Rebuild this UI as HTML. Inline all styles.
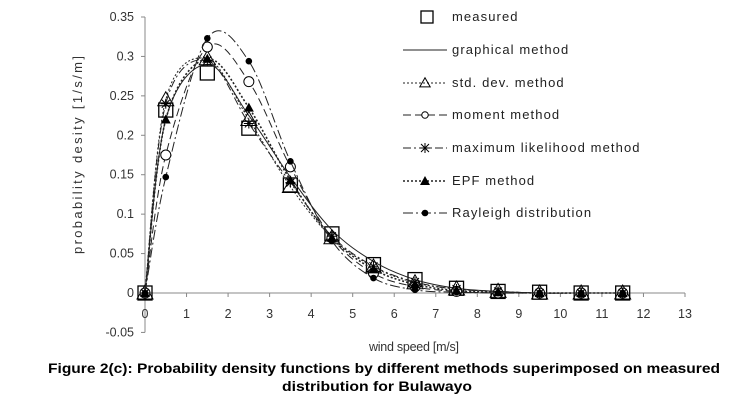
<!DOCTYPE html>
<html><head><meta charset="utf-8"><style>
body{margin:0;background:#fff;width:740px;height:409px;overflow:hidden;font-family:"Liberation Sans",sans-serif}
svg{display:block}
</style></head><body>
<svg id="chart" width="740" height="409" font-family="Liberation Sans, sans-serif">
<g id="axes"></g>
<g id="series"></g>
<g id="legend"></g>
<text x="82" y="155" font-size="13" fill="#333" text-anchor="middle" textLength="198" lengthAdjust="spacing" transform="rotate(-90 82 155)">probability desity [1/s/m]</text>
<text x="414" y="351" font-size="12.5" fill="#333" text-anchor="middle" textLength="90" lengthAdjust="spacing">wind speed [m/s]</text>
<text x="384" y="373" font-size="13.5" font-weight="bold" text-anchor="middle" textLength="672" lengthAdjust="spacingAndGlyphs">Figure 2(c): Probability density functions by different methods superimposed on measured</text>
<text x="377" y="391" font-size="13.5" font-weight="bold" text-anchor="middle" textLength="190" lengthAdjust="spacingAndGlyphs">distribution for Bulawayo</text>
</svg>
<script>
const xCats = [0,0.5,1.5,2.5,3.5,4.5,5.5,6.5,7.5,8.5,9.5,10.5,11.5];
const measured = [0,0.232,0.279,0.209,0.137,0.075,0.036,0.017,0.006,0.002,0.001,0,0];
const graphical = [0,0.22,0.29,0.225,0.147,0.08,0.04,0.017,0.006,0.002,0,0,0];
const stdDev = [0,0.245,0.297,0.22,0.135,0.07,0.033,0.013,0.005,0.002,0,0,0];
const moment = [0,0.175,0.312,0.268,0.16,0.07,0.025,0.008,0.002,0,0,0,0];
const maxLik = [0,0.24,0.295,0.215,0.14,0.072,0.034,0.014,0.005,0.002,0,0,0];
const epf = [0,0.22,0.297,0.235,0.143,0.07,0.03,0.011,0.003,0.001,0,0,0];
const rayleigh = [0,0.147,0.323,0.294,0.167,0.066,0.019,0.004,0.001,0,0,0,0];
const xTicks = [0,1,2,3,4,5,6,7,8,9,10,11,12,13];
const yTicks = [-0.05,0,0.05,0.1,0.15,0.2,0.25,0.3,0.35];
const yTickLabels = ["-0.05","0","0.05","0.1","0.15","0.2","0.25","0.3","0.35"];
const legendLabels = ["measured","graphical method","std. dev. method","moment method","maximum likelihood method","EPF method","Rayleigh distribution"];

const NS="http://www.w3.org/2000/svg";
const X0=145,X1=685,Y0=293,YTOP=17;
const xs=v=>X0+(X1-X0)*v/13;
const ys=v=>Y0-(Y0-YTOP)*v/0.35;
function mk(tag,attrs,parent){const e=document.createElementNS(NS,tag);for(const k in attrs)e.setAttribute(k,attrs[k]);parent.appendChild(e);return e;}
const axes=document.getElementById('axes');
let e=mk('line',{x1:X0,y1:YTOP,x2:X0,y2:ys(-0.05),stroke:'#888'},axes);


e=mk('line',{x1:X0,y1:Y0,x2:X1,y2:Y0,stroke:'#888'},axes);


yTicks.forEach((t,i)=>{
  mk('line',{x1:X0-4,y1:ys(t),x2:X0,y2:ys(t),stroke:'#888'},axes);
  const tx=mk('text',{x:X0-11,y:ys(t)+4,'font-size':12.5,fill:'#333','text-anchor':'end'},axes);
  tx.textContent=yTickLabels[i];
  
  
});
xTicks.forEach(t=>{
  mk('line',{x1:xs(t),y1:Y0,x2:xs(t),y2:Y0+4,stroke:'#888'},axes);
  const tx=mk('text',{x:xs(t),y:Y0+25,'font-size':12.5,fill:'#333','text-anchor':'middle'},axes);
  tx.textContent=t;
  
  
});
function smooth(vals){
  const p=xCats.map((x,i)=>[xs(x),ys(vals[i])]);
  let d='M'+p[0][0]+','+p[0][1];
  for(let i=0;i<p.length-1;i++){
    const p0=p[i-1]||p[i],p1=p[i],p2=p[i+1],p3=p[i+2]||p2,t=1/6;
    d+=' C'+(p1[0]+(p2[0]-p0[0])*t)+','+(p1[1]+(p2[1]-p0[1])*t)+' '+(p2[0]-(p3[0]-p1[0])*t)+','+(p2[1]-(p3[1]-p1[1])*t)+' '+p2[0]+','+p2[1];
  }
  return d;
}
function marker(type,x,y,g,s){
  s=s||1;
  if(type==='square')mk('rect',{x:x-7,y:y-7,width:14,height:14,fill:'none',stroke:'#000','stroke-width':1.3},g);
  else if(type==='tri')mk('polygon',{points:`${x},${y-8*s} ${x-8*s},${y+6*s} ${x+8*s},${y+6*s}`,fill:'none',stroke:'#000'},g);
  else if(type==='ftri')mk('polygon',{points:`${x},${y-5} ${x-5},${y+4} ${x+5},${y+4}`,fill:'#000'},g);
  else if(type==='circ')mk('circle',{cx:x,cy:y,r:5*s,fill:'#fff',stroke:'#000'},g);
  else if(type==='fcirc')mk('circle',{cx:x,cy:y,r:3.3,fill:'#000'},g);
  else if(type==='star'){mk('path',{d:`M${x-5},${y}H${x+5}M${x},${y-5}V${y+5}M${x-4},${y-4}L${x+4},${y+4}M${x-4},${y+4}L${x+4},${y-4}`,stroke:'#000'},g);}
}
const series=[
 {name:'measured',vals:measured,dash:null,m:'square'},
 {name:'graphical',vals:graphical,dash:'',m:null},
 {name:'std-dev',vals:stdDev,dash:'2,2',m:'tri'},
 {name:'moment',vals:moment,dash:'8,4',m:'circ'},
 {name:'max-likelihood',vals:maxLik,dash:'8,3,2,3',m:'star'},
 {name:'epf',vals:epf,dash:'2,2',m:'ftri'},
 {name:'rayleigh',vals:rayleigh,dash:'10,3,2,3',m:'fcirc'}
];
const sg=document.getElementById('series');
series.forEach(s=>{
  const g=mk('g',{},sg);
  
  
  if(s.dash!==null){const a={d:smooth(s.vals),fill:'none',stroke:'#222','stroke-width':s.name==='epf'?1.6:1};if(s.dash)a['stroke-dasharray']=s.dash;mk('path',a,g);}
  if(s.m)xCats.forEach((x,i)=>marker(s.m,xs(x),ys(s.vals[i]),g));
});
const lg=document.getElementById('legend');
const ly=[17,50,83,115,148,181,213];
series.forEach((s,i)=>{
  const g=mk('g',{},lg);
  
  
  if(s.dash!==null){const a={x1:403,y1:ly[i],x2:447,y2:ly[i],stroke:'#222','stroke-width':s.name==='epf'?1.6:1};if(s.dash)a['stroke-dasharray']=s.dash;mk('line',a,g);}
  if(s.m){ if(s.m==='square')mk('rect',{x:421,y:ly[i]-6,width:12,height:12,fill:'none',stroke:'#000','stroke-width':1.3},g); else marker(s.m,425,ly[i],g,0.65); }
  const t=mk('text',{x:452,y:ly[i]+4,'font-size':13,fill:'#222','letter-spacing':'1.1'},g);
  t.textContent=legendLabels[i];
});
</script>
</body></html>
